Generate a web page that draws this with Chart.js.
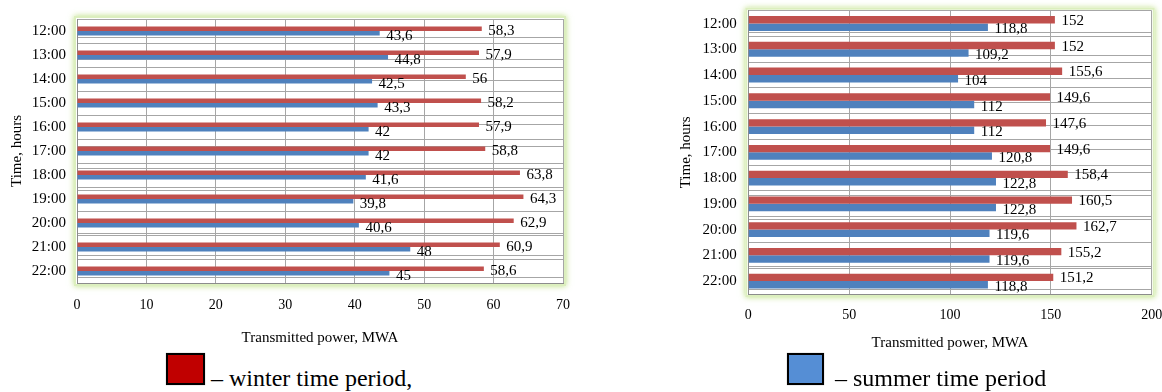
<!DOCTYPE html>
<html>
<head>
<meta charset="utf-8">
<script src="https://cdn.jsdelivr.net/npm/chart.js@4.4.1/dist/chart.umd.min.js"></script>
<style>
  html, body { margin: 0; padding: 0; background: #fff; width: 1162px; height: 392px; overflow: hidden; }
  body { position: relative; font-family: 'Liberation Serif', 'Times New Roman', serif; }
  .pane { position: absolute; }
  .key { position: absolute; box-sizing: border-box; border: 2px solid #000; box-shadow: 0 0 1px #999; }
  .keytext { position: absolute; font-size: 24px; line-height: 24px; color: #000; white-space: nowrap; }
</style>
</head>
<body>
<canvas id="chart1" class="pane" width="580" height="347" style="left:0;top:0;width:580px;height:347px"></canvas>
<canvas id="chart2" class="pane" width="492" height="352" style="left:670px;top:0;width:492px;height:352px"></canvas>

<div class="key" style="left:166px;top:353px;width:39px;height:32px;background:#c00000"></div>
<div class="keytext" style="left:211px;top:366px">– winter time period,</div>
<div class="key" style="left:787px;top:353px;width:37px;height:32px;background:#558ed5"></div>
<div class="keytext" style="left:835px;top:366px">– summer time period</div>

<script>
// Hours of the day (category axis, top to bottom)
const hours = ['12:00', '13:00', '14:00', '15:00', '16:00', '17:00', '18:00', '19:00', '20:00', '21:00', '22:00'];

// First chart: transmitted power, MWA
const chart1Winter = [58.3, 57.9, 56, 58.2, 57.9, 58.8, 63.8, 64.3, 62.9, 60.9, 58.6];
const chart1Summer = [43.6, 44.8, 42.5, 43.3, 42, 42, 41.6, 39.8, 40.6, 48, 45];
const chart1Ticks = [0, 10, 20, 30, 40, 50, 60, 70];

// Second chart: transmitted power, MWA
const chart2Winter = [152, 152, 155.6, 149.6, 147.6, 149.6, 158.4, 160.5, 162.7, 155.2, 151.2];
const chart2Summer = [118.8, 109.2, 104, 112, 112, 120.8, 122.8, 122.8, 119.6, 119.6, 118.8];
const chart2Ticks = [0, 50, 100, 150, 200];

const FONT = "'Liberation Serif', 'Times New Roman', serif";
const WINTER_COLOR = '#c0504d';
const SUMMER_COLOR = '#4f81bd';
const GRID_COLOR = '#a6a6a6';

Chart.defaults.color = '#000';
Chart.defaults.font.family = FONT;

// Soft green glow framing the plot area
const plotFrame = {
  id: 'plotFrame',
  beforeDraw(chart) {
    const { ctx, chartArea: a } = chart;
    ctx.save();
    ctx.shadowColor = 'rgba(165, 212, 85, 0.75)';
    ctx.shadowBlur = 6;
    ctx.fillStyle = '#ffffff';
    ctx.fillRect(a.left - 3, a.top - 3, a.right - a.left + 6, a.bottom - a.top + 6);
    ctx.shadowBlur = 0;
    ctx.strokeStyle = '#dcefbe';
    ctx.lineWidth = 2;
    ctx.strokeRect(a.left - 2, a.top - 2, a.right - a.left + 4, a.bottom - a.top + 4);
    ctx.restore();
  }
};

// Value written just past the end of each bar, decimal comma
const valueLabels = {
  id: 'valueLabels',
  afterDatasetsDraw(chart, args, opts) {
    const ctx = chart.ctx;
    ctx.save();
    ctx.font = opts.size + 'px ' + FONT;
    ctx.fillStyle = '#000';
    ctx.textAlign = 'left';
    ctx.textBaseline = 'middle';
    chart.data.datasets.forEach((ds, i) => {
      chart.getDatasetMeta(i).data.forEach((bar, j) => {
        const text = String(ds.data[j]).replace('.', ',');
        ctx.fillText(text, bar.x + opts.gap, bar.y + opts.shift[i]);
      });
    });
    ctx.restore();
  }
};

// Keep the plot area exactly where the layout padding puts it
function noEdgePadding(sc) {
  sc.paddingTop = 0;
  sc.paddingBottom = 0;
  sc.paddingLeft = 0;
  sc.paddingRight = 0;
}

function buildChart(id, winter, summer, ticks, s) {
  const minorLines = hours.map((h, k) => k + 1 - s.minorOffset);
  return new Chart(document.getElementById(id), {
    type: 'bar',
    data: {
      labels: hours,
      datasets: [
        { label: 'winter time period', data: winter, backgroundColor: WINTER_COLOR, borderWidth: 0 },
        { label: 'summer time period', data: summer, backgroundColor: SUMMER_COLOR, borderWidth: 0 }
      ]
    },
    options: {
      indexAxis: 'y',
      responsive: false,
      animation: false,
      events: [],
      categoryPercentage: s.catPct,
      barPercentage: 1,
      layout: { padding: s.padding },
      plugins: {
        legend: { display: false },
        tooltip: { enabled: false },
        valueLabels: { size: 15, gap: 6.5, shift: s.labelShift }
      },
      scales: {
        x: {
          type: 'linear',
          min: ticks[0],
          max: ticks[ticks.length - 1],
          afterBuildTicks: sc => { sc.ticks = ticks.map(v => ({ value: v })); },
          afterFit: sc => { sc.height = s.xHeight; noEdgePadding(sc); },
          grid: { color: GRID_COLOR, lineWidth: 1, drawTicks: false },
          border: { color: '#8c8c8c', width: 1 },
          ticks: { font: { size: 14 }, padding: s.xTickPad, color: '#000' },
          title: { display: true, text: 'Transmitted power, MWA', font: { size: 15 }, padding: { top: 0, bottom: 0 }, color: '#000' }
        },
        y: {
          type: 'category',
          afterFit: sc => { sc.width = s.yWidth; noEdgePadding(sc); },
          grid: { color: GRID_COLOR, lineWidth: 1, drawTicks: false, offset: true },
          border: { color: '#8c8c8c', width: 1 },
          ticks: { font: { size: 15 }, padding: s.yTickPad, color: '#000' },
          title: { display: true, text: 'Time, hours', font: { size: 15 }, padding: { top: s.yTitlePad, bottom: 0 }, color: '#000' }
        },
        yMinor: {
          type: 'linear',
          position: 'left',
          reverse: true,
          min: 0,
          max: hours.length,
          afterBuildTicks: sc => { sc.ticks = minorLines.map(v => ({ value: v })); },
          afterFit: sc => { sc.width = 0; noEdgePadding(sc); },
          grid: { color: GRID_COLOR, lineWidth: 1, drawTicks: false },
          border: { display: false },
          ticks: { display: false }
        }
      }
    },
    plugins: [plotFrame, valueLabels]
  });
}

buildChart('chart1', chart1Winter, chart1Summer, chart1Ticks, {
  padding: { left: 0, top: 19, right: 17, bottom: 0 },
  yWidth: 77, xHeight: 64, xTickPad: 13.6, yTickPad: 11, yTitlePad: 8,
  catPct: 0.375, minorOffset: 0.21, labelShift: [2, 2.8]
});

buildChart('chart2', chart2Winter, chart2Summer, chart2Ticks, {
  padding: { left: 0, top: 10.7, right: 10.3, bottom: 0 },
  yWidth: 78.3, xHeight: 58, xTickPad: 13.3, yTickPad: 11.6, yTitlePad: 7,
  catPct: 0.58, minorOffset: 0.136, labelShift: [1, 2]
});
</script>
</body>
</html>
